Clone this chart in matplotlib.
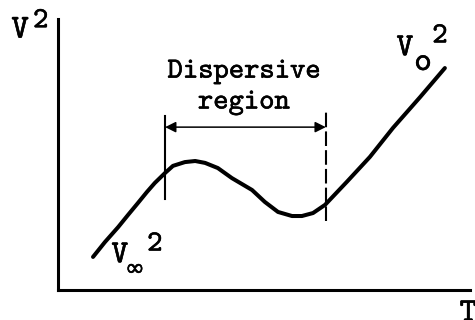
import numpy as np
import matplotlib.pyplot as plt
import matplotlib.patheffects as pe

# schematic curve of V^2 against T (axes 0..100)
t = [8.5, 11.4, 14.6, 17.0, 19.4, 21.6, 23.5, 26.0, 27.9, 30.8, 33.3, 35.7,
     38.8, 42.2, 47.1, 50.2, 53.4, 56.8, 59.2, 61.9, 64.8, 70.1, 75.7, 81.3,
     87.9, 93.9]
v2 = [12.2, 17.7, 23.2, 27.7, 32.1, 36.2, 39.5, 43.2, 45.8, 47.2, 47.6, 46.9,
      45.0, 41.3, 36.9, 32.5, 28.8, 27.3, 27.3, 28.4, 31.4, 39.9, 49.1, 59.8,
      71.2, 81.9]

# limits of the dispersive region
region_left = 26.0
region_right = 65.0
left_span = (33.6, 64.2)
right_span = (25.5, 66.4)
arrow_y = 60.1

# typewriter-like face (Computer Modern Typewriter ships with matplotlib)
mono = ['cmtt10', 'DejaVu Serif']
ink = [pe.withStroke(linewidth=0.4, foreground='black')]

fig = plt.figure(figsize=(4.75, 3.2), dpi=100)
ax = fig.add_axes([58 / 475, 30 / 320, 412 / 475, 271 / 320])
ax.set_xlim(0, 100)
ax.set_ylim(0, 100)
for side in ['top', 'right']:
    ax.spines[side].set_visible(False)
for side in ['left', 'bottom']:
    ax.spines[side].set_linewidth(2.2)
ax.set_xticks([])
ax.set_yticks([])

ax.plot(t, v2, color='black', lw=2.9, solid_capstyle='round', solid_joinstyle='round')

ax.plot([region_left, region_left], left_span, color='black', lw=1.5)
ax.plot([region_right, region_right], right_span, color='black', lw=1.5,
        dashes=(7, 2))
ax.annotate('', xy=(region_left, arrow_y), xytext=(region_right, arrow_y),
            arrowprops=dict(arrowstyle='<|-|>', color='black', lw=1.1,
                            mutation_scale=16, shrinkA=0, shrinkB=0))

def label(x, y, s, size):
    ax.text(x, y, s, ha='center', va='center', fontsize=size, family=mono,
            path_effects=ink, clip_on=False)

label(45.1, 80.4, 'Dispersive', 21)
label(45.1, 69.0, 'region', 21)

# axis labels
label(-9.2, 95.6, 'V', 24)
label(-4.2, 99.0, '2', 21)
label(99.6, -9.0, 'T', 24)

# curve end labels
label(84.2, 88.9, 'V', 23)
label(88.6, 83.6, 'o', 24)
label(92.7, 93.4, '2', 21)

label(15.0, 12.5, 'V', 23)
ax.text(18.6, 7.9, r'$\infty$', ha='center', va='center', fontsize=17,
        path_effects=ink)
label(23.5, 16.6, '2', 21)

fig.savefig('out.png', dpi=100)
